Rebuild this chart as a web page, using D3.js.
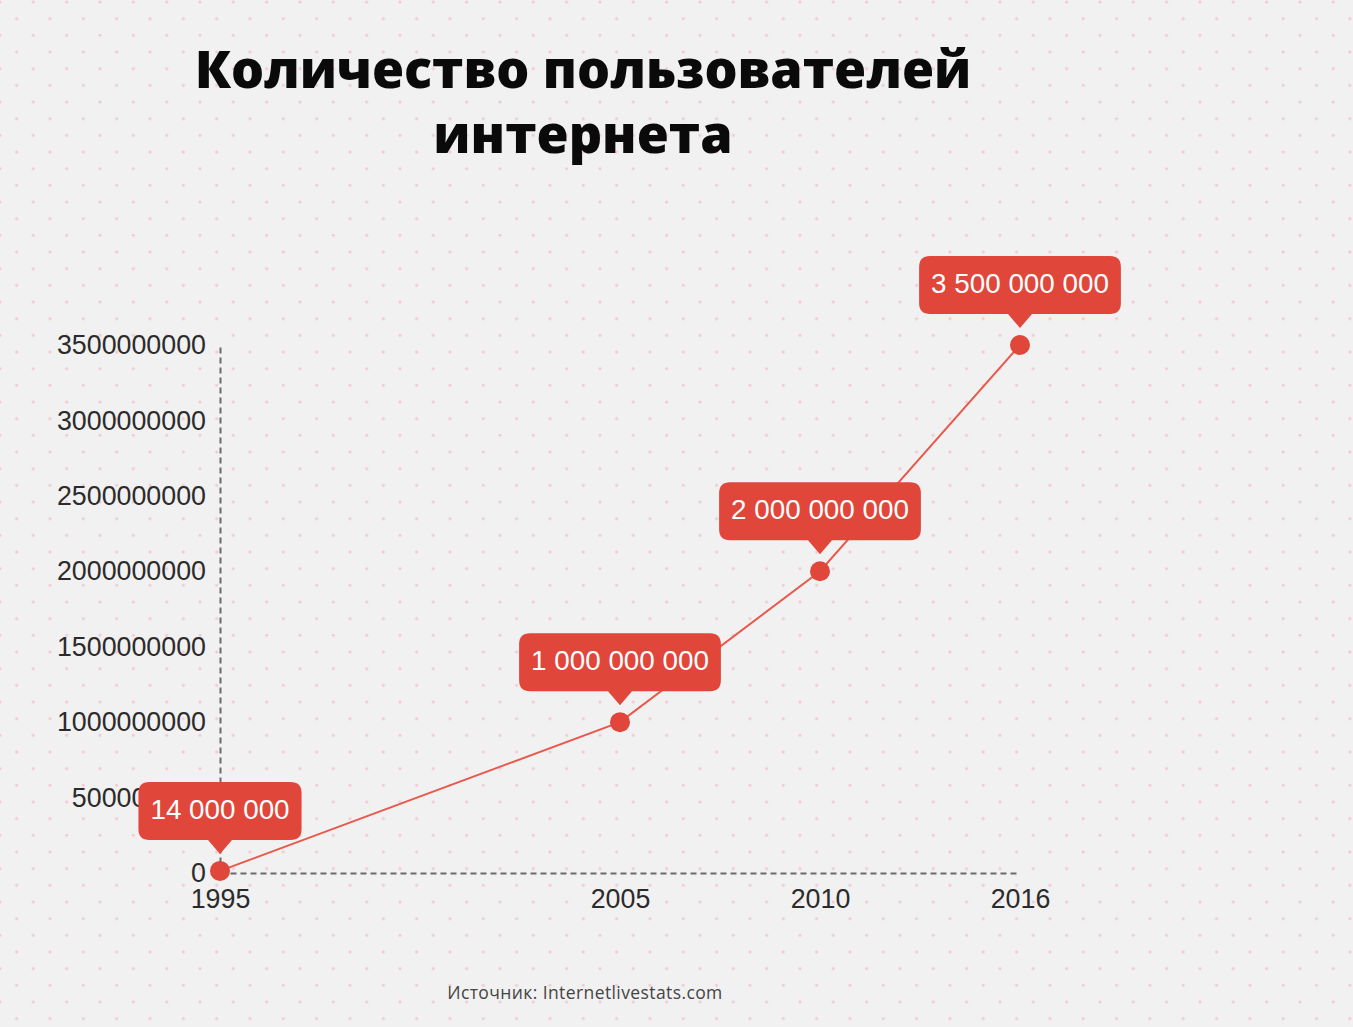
<!DOCTYPE html>
<html>
<head>
<meta charset="utf-8">
<script src="https://cdn.jsdelivr.net/npm/d3@7"></script>
<style>
  html, body { margin: 0; padding: 0; background: #f2f1f1; }
  svg { display: block; }
</style>
</head>
<body>
<svg id="chart" width="1353" height="1027"></svg>
<script>
// ---- data ----
const titleLines = ["Количество пользователей", "интернета"];
const sourceText = "Источник: Internetlivestats.com";
const years = [1995, 2005, 2010, 2016];
const users = [14000000, 1000000000, 2000000000, 3500000000];
const calloutLabels = ["14 000 000", "1 000 000 000", "2 000 000 000", "3 500 000 000"];
const yTickValues = [0, 500000000, 1000000000, 1500000000, 2000000000, 2500000000, 3000000000, 3500000000];
const xTickLabels = ["1995", "2005", "2010", "2016"];

// ---- layout ----
const W = 1353, H = 1027;
const plot = { left: 220, right: 1020, top: 345, bottom: 873 };
const red = "#e0463a";
const lineRed = "#e8584b";

const svg = d3.select("#chart");

// background dot pattern
const defs = svg.append("defs");
const pat = defs.append("pattern")
  .attr("id", "dots").attr("patternUnits", "userSpaceOnUse")
  .attr("width", 33.33).attr("height", 33.33);
const dotCol = "#f1c9d1";
pat.append("circle").attr("cx", 0).attr("cy", 2).attr("r", 1.6).attr("fill", dotCol);
pat.append("circle").attr("cx", 33.33).attr("cy", 2).attr("r", 1.6).attr("fill", dotCol);
pat.append("circle").attr("cx", 16.67).attr("cy", 18.67).attr("r", 1.6).attr("fill", dotCol);
svg.append("rect").attr("width", W).attr("height", H).attr("fill", "#f2f1f1");
svg.append("rect").attr("width", W).attr("height", H).attr("fill", "url(#dots)");

// title
const titleG = svg.append("g");
const titleYs = [88, 153];
let titleFs = 54;
titleLines.forEach((t, i) => {
  const tx = titleG.append("text")
    .attr("x", 583).attr("y", titleYs[i])
    .attr("text-anchor", "middle")
    .attr("font-family", "'Open Sans', 'Noto Sans', sans-serif")
    .attr("font-weight", 800)
    .attr("font-size", titleFs)
    .attr("fill", "#0a0a0a")
    .text(t);
  if (i === 0) {
    const w = tx.node().getComputedTextLength();
    titleFs = 54 * 777 / w;
    tx.attr("font-size", titleFs);
  }
});

// scales: x positions spaced like the source (1995 → 2005 takes half the width)
const xFrac = [0, 0.5, 0.75, 1];
const x = d3.scaleLinear()
  .domain(years)
  .range(xFrac.map(f => plot.left + f * (plot.right - plot.left)));
const y = d3.scaleLinear()
  .domain([0, d3.max(yTickValues)])
  .range([plot.bottom, plot.top]);

// y axis
const yAxis = d3.axisLeft(y).tickValues(yTickValues).tickFormat(d3.format("d")).tickSize(0).tickPadding(14);
const yG = svg.append("g").attr("transform", `translate(${plot.left},0)`).call(yAxis);
yG.select(".domain").attr("stroke", "#6b6b6b").attr("stroke-width", 2).attr("stroke-dasharray", "6,4");
yG.selectAll("text")
  .attr("font-family", "'Liberation Sans', Arial, sans-serif")
  .attr("font-size", 26.8).attr("fill", "#2b2b2b");

// x axis
const xAxis = d3.axisBottom(x).tickValues(years).tickFormat((d, i) => xTickLabels[i]).tickSize(0).tickPadding(16);
const xG = svg.append("g").attr("transform", `translate(0,${plot.bottom})`).call(xAxis);
xG.select(".domain").attr("stroke", "#6b6b6b").attr("stroke-width", 2).attr("stroke-dasharray", "6,4");
xG.selectAll("text")
  .attr("font-family", "'Liberation Sans', Arial, sans-serif")
  .attr("font-size", 26.8).attr("fill", "#2b2b2b");

// line
const data = years.map((yr, i) => ({ year: yr, value: users[i], label: calloutLabels[i] }));
svg.append("path")
  .datum(data)
  .attr("fill", "none").attr("stroke", lineRed).attr("stroke-width", 2)
  .attr("d", d3.line().x(d => x(d.year)).y(d => y(d.value)));

// points
svg.selectAll("circle.pt").data(data).enter().append("circle")
  .attr("class", "pt")
  .attr("cx", d => x(d.year)).attr("cy", d => y(d.value))
  .attr("r", 10).attr("fill", red);

// callouts
const boxH = 58, gap = 31, r = 11, tipW = 12, tipY = 17, padX = 12;
const cg = svg.selectAll("g.callout").data(data).enter().append("g").attr("class", "callout");
cg.each(function(d) {
  const g = d3.select(this);
  const px = x(d.year), py = y(d.value);
  const txt = g.append("text")
    .attr("font-family", "'Liberation Sans', Arial, sans-serif")
    .attr("font-size", 27.8).attr("fill", "#ffffff")
    .attr("text-anchor", "middle")
    .text(d.label);
  const tw = txt.node().getComputedTextLength();
  const bw = tw + 2 * padX;
  const x0 = px - bw / 2, x1 = px + bw / 2;
  const y1 = py - gap, y0 = y1 - boxH;
  const p = d3.path();
  p.moveTo(x0 + r, y0);
  p.lineTo(x1 - r, y0);
  p.quadraticCurveTo(x1, y0, x1, y0 + r);
  p.lineTo(x1, y1 - r);
  p.quadraticCurveTo(x1, y1, x1 - r, y1);
  p.lineTo(px + tipW, y1);
  p.lineTo(px, py - tipY);
  p.lineTo(px - tipW, y1);
  p.lineTo(x0 + r, y1);
  p.quadraticCurveTo(x0, y1, x0, y1 - r);
  p.lineTo(x0, y0 + r);
  p.quadraticCurveTo(x0, y0, x0 + r, y0);
  p.closePath();
  g.insert("path", "text").attr("d", p.toString()).attr("fill", red);
  txt.attr("x", px).attr("y", y0 + boxH / 2 + 8);
});

// source
svg.append("text")
  .attr("x", 585).attr("y", 999)
  .attr("text-anchor", "middle")
  .attr("font-family", "'Open Sans', 'Noto Sans', sans-serif")
  .attr("font-size", 17.5).attr("letter-spacing", 0.4).attr("fill", "#444")
  .text(sourceText);
</script>
</body>
</html>
